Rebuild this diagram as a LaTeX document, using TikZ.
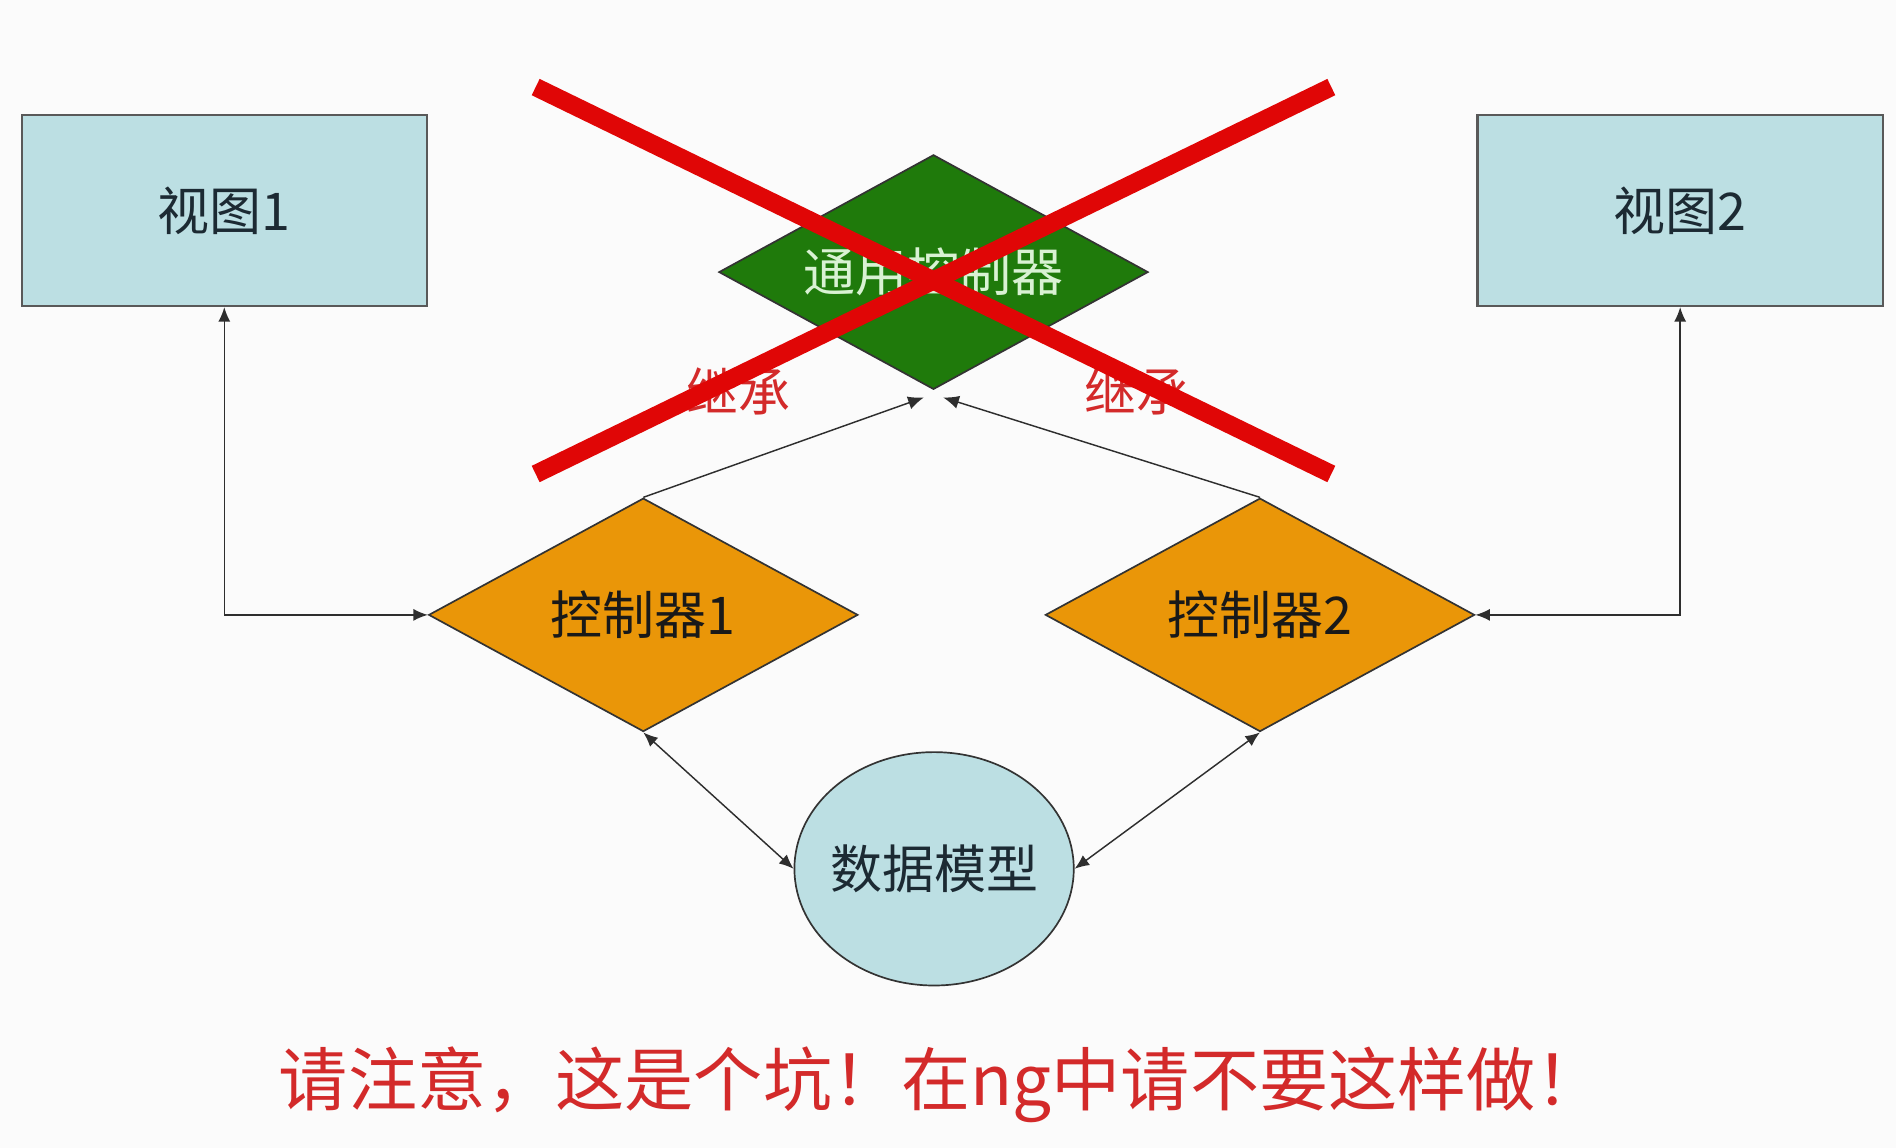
\documentclass[tikz,border=0pt]{standalone}
\usepackage{fontspec}
\setmainfont{Noto Sans CJK SC}
\usetikzlibrary{shapes.geometric,arrows.meta}
\definecolor{paper}{HTML}{FBFBFB}
\definecolor{viewfill}{HTML}{BCDFE3}
\definecolor{ctrlfill}{HTML}{EA9608}
\definecolor{basefill}{HTML}{1F7A0B}
\definecolor{basetext}{HTML}{D9F2D3}
\definecolor{nodetext}{HTML}{1C2A33}
\definecolor{crossred}{HTML}{E00606}
\definecolor{notered}{HTML}{D32A2A}
\definecolor{edgegray}{HTML}{2E2E2E}
\tikzset{
  labelfont/.style={font=\fontsize{21.5}{24}\selectfont},
  viewbox/.style={labelfont, draw=black!65, line width=1pt, fill=viewfill, minimum width=167.5pt,
    minimum height=79pt, inner sep=0pt, text=nodetext},
  ctrlbox/.style={labelfont, diamond, shape aspect=2, draw=black!80, line width=0.7pt, fill=ctrlfill,
    minimum width=177.5pt, minimum height=96.5pt, inner sep=0pt, text=black!90},
  basebox/.style={labelfont, diamond, shape aspect=2, draw=black!80, line width=0.7pt, fill=basefill,
    minimum width=177.5pt, minimum height=97pt, inner sep=0pt, text=basetext},
  modelbox/.style={labelfont, ellipse, draw=black!80, line width=0.7pt, fill=viewfill,
    minimum width=115.5pt, minimum height=96.5pt, inner sep=-3pt, text=nodetext},
  link/.style={draw=edgegray, line width=0.6pt, -{Latex[length=6.5pt,width=5.5pt]}},
  biglink/.style={draw=edgegray, line width=0.6pt,
    {Latex[length=6pt,width=5pt]}-{Latex[length=6pt,width=5pt]}},
  inherit/.style={labelfont, text=notered, inner sep=0pt},
  crossbar/.style={draw=crossred, line width=7.5pt},
  warning/.style={text=notered, font=\fontsize{28.6}{32}\selectfont, inner sep=0pt}
}
\begin{document}
\begin{tikzpicture}[x=0.5pt, y=-0.5pt]
  % page
  \fill[paper] (0,0) rectangle (1568,949);
  \useasboundingbox (0,0) rectangle (1568,949);

  % nodes
  \node[viewbox] (v1) at (185.5,174) {视图1};
  \node[viewbox] (v2) at (1389.5,174) {视图2};
  \node[basebox] (g) at (772,225) {通用控制器};
  \node[ctrlbox] (c1) at (532,508.5) {控制器1};
  \node[ctrlbox] (c2) at (1042,508.5) {控制器2};
  \node[modelbox] (m) at (772.5,718.5) {数据模型};

  % inheritance labels
  \node[inherit] (l1) at (611,324) {继承};
  \node[inherit] (l2) at (940,324) {继承};

  % connectors
  \draw[biglink] (c1.west) -| (v1.south);
  \draw[biglink] (c2.east) -| (v2.south);
  \draw[link] (c1.north) -- ([xshift=-4pt,yshift=-3pt]g.south);
  \draw[link] (c2.north) -- ([xshift=4pt,yshift=-3pt]g.south);
  \draw[biglink] (c1.south) -- (m.west);
  \draw[biglink] (c2.south) -- (m.east);

  % the cross over the shared controller
  \coordinate (xa) at (443,72);
  \coordinate (xb) at (1101,392);
  \coordinate (xc) at (443,392);
  \coordinate (xd) at (1101,72);
  \draw[crossbar] (xa) -- (xb);
  \draw[crossbar] (xc) -- (xd);

  % note
  \node[warning] (note) at (779,897) {请注意，这是个坑！在ng中请不要这样做！};
\end{tikzpicture}
\end{document}
